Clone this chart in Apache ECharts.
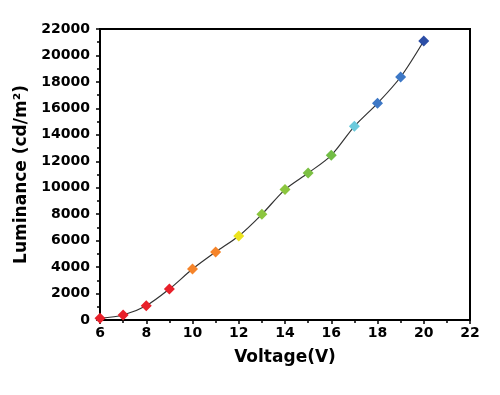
<!DOCTYPE html>
<html>
<head>
<meta charset="utf-8">
<script src="https://cdn.jsdelivr.net/npm/echarts@6/dist/echarts.min.js"></script>
<style>html,body{margin:0;padding:0;background:#fff}#c{width:500px;height:395px}</style>
</head>
<body>
<div id="c"></div>
<script>
var voltage = [6, 7, 8, 9, 10, 11, 12, 13, 14, 15, 16, 17, 18, 19, 20];
var luminance = [130, 380, 1080, 2340, 3850, 5140, 6350, 7990, 9860, 11110, 12450, 14640, 16380, 18370, 21090];
var pointColors = ['#e8202a','#e8202a','#e8202a','#e8202a','#f5842a','#f5842a','#ece31e','#8cc63f','#8cc63f','#7cc043','#72bd45','#6ccadc','#3d78c6','#3d78c6','#2c4ea6'];
var xLabel = 'Voltage(V)';
var yLabel = 'Luminance (cd/m\u00b2)';

var chart = echarts.init(document.getElementById('c'), null, {renderer:'canvas'});
var fontFam = 'DejaVu Sans';
chart.setOption({
  animation: false,
  grid: {left: 100, top: 29, right: 30, bottom: 75, show: true, borderColor: '#000', borderWidth: 2, backgroundColor: 'transparent'},
  xAxis: {
    type: 'value', min: 6, max: 22, interval: 2,
    name: xLabel, nameLocation: 'middle', nameGap: 29,
    nameTextStyle: {fontFamily: fontFam, fontWeight: 'bold', fontSize: 17, color: '#000'},
    axisLine: {lineStyle: {color: '#000', width: 2}},
    axisTick: {show: true, inside: false, length: 4, lineStyle: {color: '#000', width: 1.5}},
    minorTick: {show: true, splitNumber: 2, length: 3, lineStyle: {color: '#000', width: 1.5}},
    axisLabel: {fontFamily: fontFam, fontWeight: 'bold', fontSize: 14, color: '#000', margin: 6,
      formatter: function(v){ return String(v); }},
    splitLine: {show: false}
  },
  yAxis: {
    type: 'value', min: 0, max: 22000, interval: 2000,
    name: yLabel, nameLocation: 'middle', nameGap: 53, nameRotate: 90,
    nameTextStyle: {fontFamily: fontFam, fontWeight: 'bold', fontSize: 17, color: '#000'},
    axisLine: {lineStyle: {color: '#000', width: 2}},
    axisTick: {show: true, inside: false, length: 4, lineStyle: {color: '#000', width: 1.5}},
    minorTick: {show: true, splitNumber: 2, length: 3, lineStyle: {color: '#000', width: 1.5}},
    axisLabel: {fontFamily: fontFam, fontWeight: 'bold', fontSize: 14, color: '#000', margin: 10,
      formatter: function(v){ return String(v); }},
    splitLine: {show: false}
  },
  series: [{
    type: 'line',
    data: voltage.map(function(v, i){ return {value: [v, luminance[i]], itemStyle: {color: pointColors[i]}}; }),
    smooth: 0.3,
    symbol: 'diamond', symbolSize: 11,
    lineStyle: {color: '#333', width: 1.2},
    z: 3
  }]
});
</script>
</body>
</html>
